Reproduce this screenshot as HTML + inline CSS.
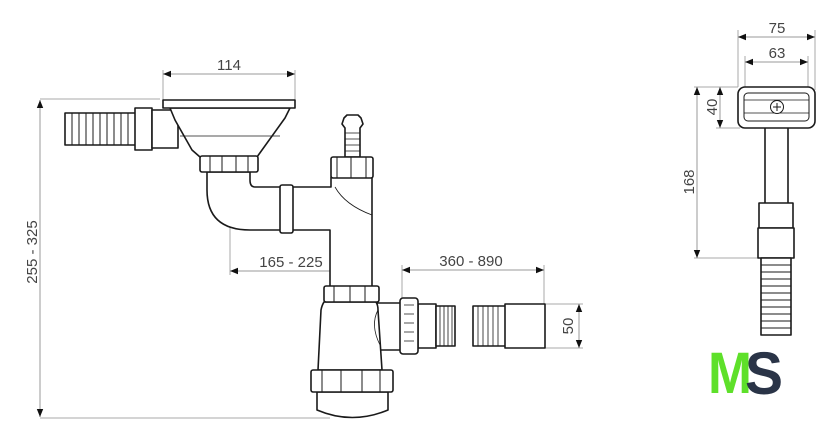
<!DOCTYPE html>
<html><head><meta charset="utf-8"><style>
html,body{margin:0;padding:0;background:#fff;}
svg{display:block;}
text{font-family:"Liberation Sans",sans-serif;fill:#444;}
</style></head><body>
<svg width="840" height="443" viewBox="0 0 840 443" xmlns="http://www.w3.org/2000/svg">
<defs>
<marker id="a" viewBox="0 0 10 10" refX="10" refY="5" markerWidth="8" markerHeight="8" orient="auto-start-reverse"><path d="M0,1 L10,5 L0,9 z" fill="#111"/></marker>
</defs>
<g stroke="#aaa" stroke-width="1" fill="none">
<!-- ext lines -->
<line x1="40" y1="99" x2="160" y2="99"/>
<line x1="40" y1="418" x2="330" y2="418"/>
<line x1="163" y1="70" x2="163" y2="100"/>
<line x1="295" y1="70" x2="295" y2="100"/>
<line x1="230" y1="172" x2="230" y2="275"/>
<line x1="351" y1="178" x2="351" y2="275"/>
<line x1="402" y1="265" x2="402" y2="300"/>
<line x1="544" y1="265" x2="544" y2="305"/>
<line x1="545" y1="304" x2="583" y2="304"/>
<line x1="545" y1="348" x2="583" y2="348"/>
<line x1="738" y1="30" x2="738" y2="87"/>
<line x1="815" y1="30" x2="815" y2="90"/>
<line x1="745" y1="56" x2="745" y2="92"/>
<line x1="808" y1="56" x2="808" y2="92"/>
<line x1="694" y1="87" x2="738" y2="87"/>
<line x1="716" y1="128" x2="740" y2="128"/>
<line x1="694" y1="258" x2="758" y2="258"/>
</g>
<g stroke="#999" stroke-width="1" fill="none" marker-start="url(#a)" marker-end="url(#a)">
<line x1="40" y1="100" x2="40" y2="417"/>
<line x1="163" y1="74" x2="295" y2="74"/>
<line x1="230" y1="271" x2="351" y2="271"/>
<line x1="402" y1="270" x2="544" y2="270"/>
<line x1="579" y1="304" x2="579" y2="348"/>
<line x1="738" y1="37" x2="815" y2="37"/>
<line x1="745" y1="62" x2="808" y2="62"/>
<line x1="720" y1="87" x2="720" y2="128"/>
<line x1="697" y1="87" x2="697" y2="258"/>
</g>
<g font-size="15">
<text x="229" y="70" text-anchor="middle">114</text>
<text x="291" y="267" text-anchor="middle">165 - 225</text>
<text x="471" y="266" text-anchor="middle">360 - 890</text>
<text x="777" y="33" text-anchor="middle">75</text>
<text x="777" y="58" text-anchor="middle">63</text>
<text transform="translate(37,252) rotate(-90)" text-anchor="middle">255 - 325</text>
<text transform="translate(573,326) rotate(-90)" text-anchor="middle">50</text>
<text transform="translate(717,107) rotate(-90)" text-anchor="middle">40</text>
<text transform="translate(694,182) rotate(-90)" text-anchor="middle">168</text>
</g>
<g stroke="#1a1a1a" stroke-width="1.6" fill="#fff" stroke-linejoin="round">
<!-- hose left -->
<rect x="65" y="113" width="72" height="32"/>
<g stroke-width="1" fill="none"><path d="M72,113v32M79,113v32M86,113v32M93,113v32M100,113v32M107,113v32M114,113v32M121,113v32M128,113v32"/></g>
<rect x="135" y="108" width="17" height="42"/>
<rect x="152" y="110" width="26" height="38"/>
<!-- bowl -->
<path d="M170,108 L290,108 L285,118 L262,150 L257,157 L200,157 L192,150 L175,120 z"/>
<line x1="180" y1="136" x2="280" y2="136" stroke-width="0.8"/>
<rect x="163" y="100" width="132" height="8"/>
<!-- elbow -->
<path d="M207,172 L207,190 Q207,230 250,230 L330,230 L330,287 L372,287 L372,177 L331,177 L331,187 L255,187 Q250,187 250,180 L250,172 z"/>
<path d="M335,187 Q345,205 372,215" fill="none" stroke-width="0.8"/>
<rect x="280" y="185" width="13" height="48" rx="2"/>
<rect x="200" y="156" width="58" height="16" rx="2"/>
<g stroke-width="1" fill="none"><path d="M210,156v16M222,156v16M236,156v16M248,156v16"/></g>
<!-- top tip -->
<path d="M345,157 L345,128 L342,124 L344,118 L347,115 L358,115 L361,118 L363,124 L360,128 L360,157 z"/>
<g stroke-width="0.8" fill="none"><path d="M345,133h15M345,139h15M345,145h15M345,151h15"/></g>
<rect x="331" y="157" width="42" height="21" rx="2"/>
<g stroke-width="1" fill="none"><path d="M337,157v21M351,157v21M366,157v21"/></g>
<!-- side outlet -->
<rect x="377" y="303" width="25" height="47"/>
<rect x="418" y="304" width="18" height="44"/>
<rect x="436" y="306" width="19" height="40"/>
<g stroke-width="0.8" fill="none"><path d="M440,306v40M444,306v40M448,306v40M452,306v40"/></g>
<rect x="400" y="298" width="18" height="56" rx="3"/>
<g stroke-width="0.8" fill="none"><path d="M404,305h10M404,314h10M404,323h10M404,332h10M404,341h10"/></g>
<rect x="473" y="306" width="33" height="40"/>
<g stroke-width="0.8" fill="none"><path d="M478,306v40M483,306v40M488,306v40M493,306v40M498,306v40"/></g>
<rect x="505" y="304" width="40" height="44"/>
<!-- bottle -->
<path d="M324,302 L376,302 Q378,305 378,310 L382,370 L318,370 L321,310 Q322,305 324,302 z"/>
<path d="M378,310 Q370,325 380,345" fill="none" stroke-width="0.8"/>
<rect x="324" y="286" width="55" height="16" rx="2"/>
<g stroke-width="1" fill="none"><path d="M334,286v16M350,286v16M365,286v16"/></g>
<path d="M317,392 L388,392 L388,410 Q352,425 317,410 z"/>
<rect x="311" y="370" width="82" height="22" rx="2"/>
<g stroke-width="1" fill="none"><path d="M322,370v22M341,370v22M362,370v22M380,370v22"/></g>
<!-- right device -->
<rect x="765" y="127" width="23" height="77"/>
<rect x="759" y="203" width="34" height="25"/>
<rect x="758" y="228" width="36" height="30"/>
<rect x="761" y="258" width="30" height="77"/>
<g stroke-width="1" fill="none"><path d="M761,265h30M761,272h30M761,279h30M761,286h30M761,293h30M761,300h30M761,307h30M761,314h30M761,321h30M761,328h30"/></g>
<rect x="738" y="87" width="77" height="41" rx="7"/>
<rect x="744" y="93" width="65" height="28" rx="4" stroke-width="1"/>
<line x1="744" y1="100" x2="809" y2="100" stroke-width="0.8"/>
<line x1="744" y1="113" x2="809" y2="113" stroke-width="0.8"/>
<circle cx="777" cy="107" r="6.5" stroke-width="1"/>
<path d="M777,103v8M773,107h8" stroke-width="1" fill="none"/>
</g>
<!-- logo -->
<text x="708" y="393" font-size="58" font-weight="bold" style="fill:#5ee02a" textLength="44" lengthAdjust="spacingAndGlyphs">M</text>
<text x="745" y="394" font-size="60" font-weight="bold" style="fill:#2a3447" textLength="38" lengthAdjust="spacingAndGlyphs">S</text>
</svg>
</body></html>
